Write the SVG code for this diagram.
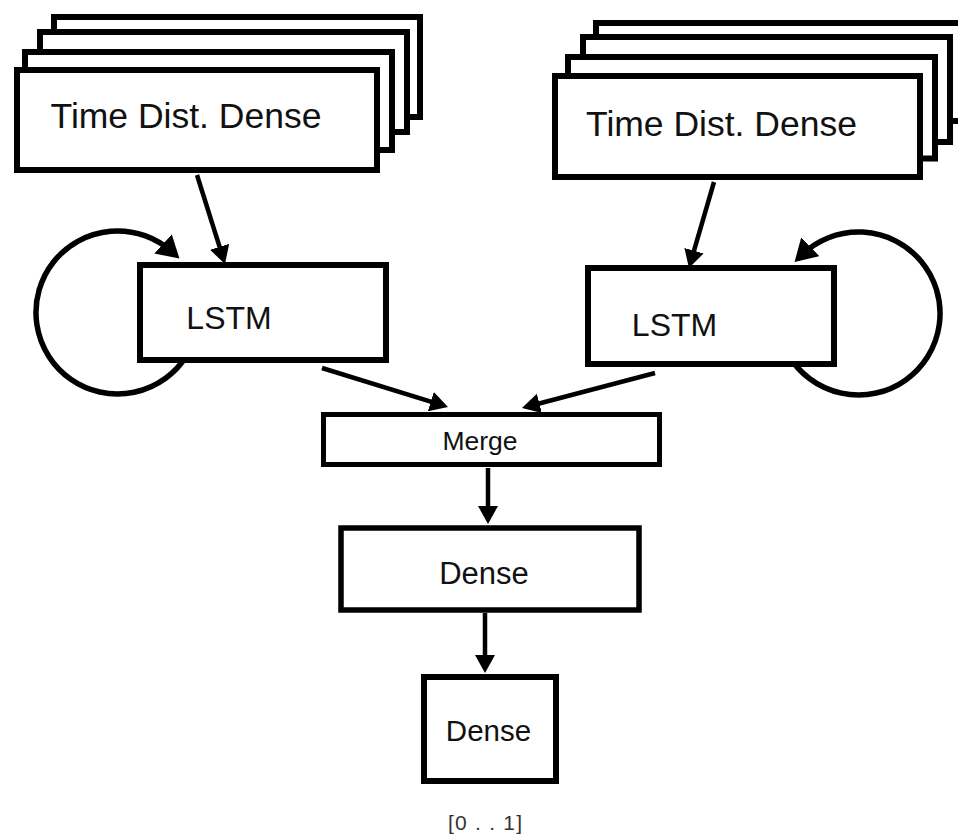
<svg xmlns="http://www.w3.org/2000/svg" width="958" height="840" viewBox="0 0 958 840">
<style>
.box{fill:#fff;stroke:#000;stroke-width:6}
.t{font-family:"Liberation Sans",Arial,sans-serif;fill:#111;text-anchor:middle}
.arr{fill:none;stroke:#000;stroke-width:4.5;marker-end:url(#ah)}
.loop{fill:none;stroke:#000;stroke-width:5.5;marker-end:url(#lh)}
</style>
<defs>
<marker id="ah" markerUnits="userSpaceOnUse" markerWidth="18" markerHeight="20" viewBox="0 0 18 20" refX="10" refY="10" orient="auto">
<path d="M0,0 L18,10 L0,20 z" fill="#000"/>
</marker>
<marker id="lh" markerUnits="userSpaceOnUse" markerWidth="22" markerHeight="26" viewBox="0 0 22 26" refX="12" refY="13" orient="auto">
<path d="M0,0 L22,13 L0,26 z" fill="#000"/>
</marker>
</defs>
<rect width="958" height="840" fill="#fff"/>
<g id="connectors">
<path class="loop" d="M187,355 A81.5,81.5 0 1 1 172,251.9"/>
<path class="loop" d="M788.4,355 A81.5,81.5 0 1 0 801.7,255.1"/>
<line class="arr" x1="197" y1="175" x2="222.6" y2="256.4"/>
<line class="arr" x1="714" y1="182" x2="691.2" y2="260.3"/>
<line class="arr" x1="322" y1="368" x2="440.4" y2="404.6"/>
<line class="arr" x1="655" y1="373" x2="529.7" y2="406"/>
<line class="arr" x1="488" y1="468" x2="488" y2="516"/>
<line class="arr" x1="485" y1="613" x2="485" y2="665"/>
</g>
<g id="tdd-left">
<rect class="box" x="54" y="17" width="366" height="100"/>
<rect class="box" x="40" y="32" width="367" height="100"/>
<rect class="box" x="25" y="52" width="367" height="98"/>
<rect class="box" x="17" y="70" width="360" height="100"/>
<text class="t" x="186" y="128" font-size="35.5">Time Dist. Dense</text>
</g>
<g id="tdd-right">
<rect class="box" x="596" y="23" width="380" height="98"/>
<rect class="box" x="583" y="37" width="367" height="105"/>
<rect class="box" x="568" y="57" width="367" height="101.5"/>
<rect class="box" x="555" y="76" width="365" height="101"/>
<text class="t" x="721.5" y="136" font-size="35.5">Time Dist. Dense</text>
</g>
<g id="lstm-left">
<rect class="box" x="140" y="265" width="246" height="95"/>
<text class="t" x="229" y="329" font-size="32">LSTM</text>
</g>
<g id="lstm-right">
<rect class="box" x="588" y="268" width="246" height="96"/>
<text class="t" x="674.5" y="336" font-size="32">LSTM</text>
</g>
<g id="merge">
<rect class="box" x="323.5" y="414.5" width="336" height="50" style="stroke-width:5"/>
<text class="t" x="480" y="450" font-size="26.5">Merge</text>
</g>
<g id="dense1">
<rect class="box" x="341" y="528" width="298" height="82" style="stroke-width:5.5"/>
<text class="t" x="484" y="584" font-size="31">Dense</text>
</g>
<g id="dense2">
<rect class="box" x="424" y="677" width="132" height="104"/>
<text class="t" x="488.5" y="741" font-size="29.5">Dense</text>
</g>
<g id="output-label">
<text class="t" x="485" y="830" font-size="21" fill="#333" style="fill:#333" textLength="74" lengthAdjust="spacing">[0 . . 1]</text>
</g>
</svg>
